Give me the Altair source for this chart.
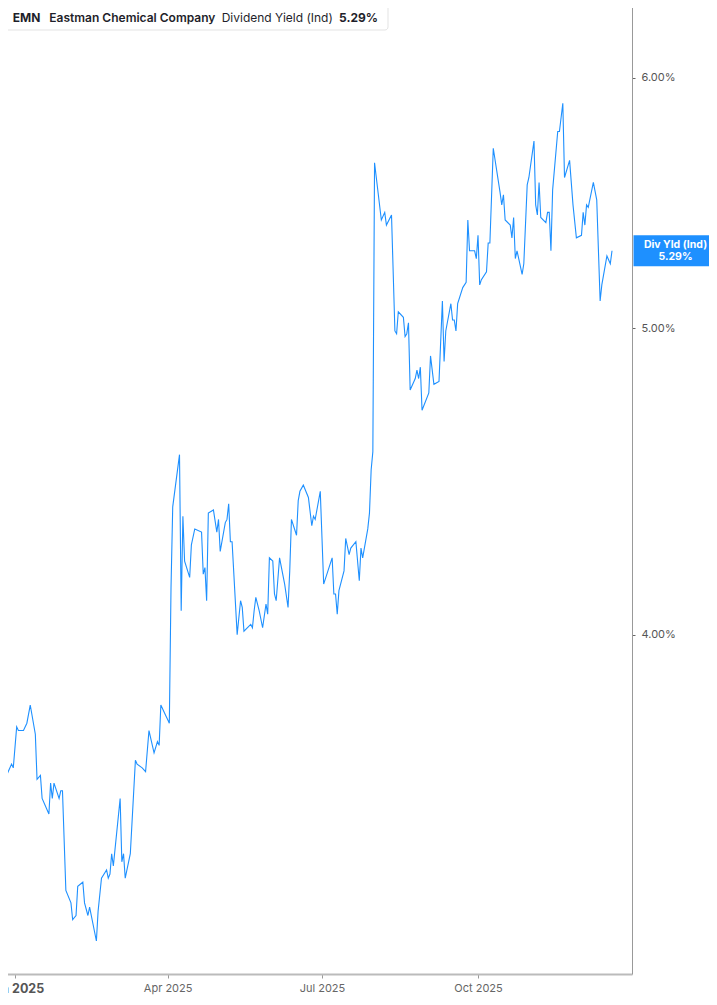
import altair as alt
import pandas as pd

# Header / badge texts
ticker = "EMN"
company = "Eastman Chemical Company"
metric = "Dividend Yield (Ind)"
badge_title = "Div Yld (Ind)"

# Daily dividend yield (%)
dates = [
    "2024-12-23", "2024-12-24", "2024-12-26", "2024-12-27", "2024-12-30", "2024-12-31",
    "2025-01-02", "2025-01-03", "2025-01-06", "2025-01-08", "2025-01-10", "2025-01-13",
    "2025-01-14", "2025-01-16", "2025-01-17", "2025-01-21", "2025-01-22", "2025-01-23",
    "2025-01-24", "2025-01-27", "2025-01-28", "2025-01-29", "2025-01-31", "2025-02-03",
    "2025-02-04", "2025-02-06", "2025-02-07", "2025-02-10", "2025-02-11", "2025-02-13",
    "2025-02-14", "2025-02-18", "2025-02-19", "2025-02-21", "2025-02-24", "2025-02-25",
    "2025-02-26", "2025-02-27", "2025-02-28", "2025-03-04", "2025-03-05", "2025-03-06",
    "2025-03-07", "2025-03-10", "2025-03-13", "2025-03-14", "2025-03-17", "2025-03-19",
    "2025-03-21", "2025-03-24", "2025-03-26", "2025-03-27", "2025-03-28", "2025-03-31",
    "2025-04-01", "2025-04-02", "2025-04-03", "2025-04-04", "2025-04-08", "2025-04-09",
    "2025-04-10", "2025-04-11", "2025-04-14", "2025-04-15", "2025-04-17", "2025-04-21",
    "2025-04-22", "2025-04-23", "2025-04-24", "2025-04-25", "2025-04-28", "2025-04-30",
    "2025-05-01", "2025-05-02", "2025-05-05", "2025-05-06", "2025-05-07", "2025-05-08",
    "2025-05-09", "2025-05-12", "2025-05-14", "2025-05-15", "2025-05-16", "2025-05-20",
    "2025-05-21", "2025-05-22", "2025-05-23", "2025-05-25", "2025-05-27", "2025-05-29",
    "2025-05-30", "2025-05-31", "2025-06-02", "2025-06-03", "2025-06-04", "2025-06-06",
    "2025-06-09", "2025-06-11", "2025-06-12", "2025-06-13", "2025-06-16", "2025-06-17",
    "2025-06-18", "2025-06-20", "2025-06-23", "2025-06-25", "2025-06-26", "2025-06-27",
    "2025-06-30", "2025-07-02", "2025-07-07", "2025-07-08", "2025-07-09", "2025-07-10",
    "2025-07-11", "2025-07-14", "2025-07-15", "2025-07-17", "2025-07-18", "2025-07-21",
    "2025-07-23", "2025-07-24", "2025-07-25", "2025-07-28", "2025-07-29", "2025-07-30",
    "2025-07-31", "2025-08-01", "2025-08-05", "2025-08-07", "2025-08-08", "2025-08-11",
    "2025-08-13", "2025-08-14", "2025-08-15", "2025-08-18", "2025-08-19", "2025-08-20",
    "2025-08-21", "2025-08-22", "2025-08-25", "2025-08-26", "2025-08-27", "2025-08-28",
    "2025-08-29", "2025-09-02", "2025-09-03", "2025-09-05", "2025-09-08", "2025-09-10",
    "2025-09-11", "2025-09-12", "2025-09-15", "2025-09-16", "2025-09-17", "2025-09-18",
    "2025-09-19", "2025-09-22", "2025-09-24", "2025-09-25", "2025-09-26", "2025-09-29",
    "2025-09-30", "2025-10-01", "2025-10-02", "2025-10-03", "2025-10-06", "2025-10-07",
    "2025-10-08", "2025-10-10", "2025-10-14", "2025-10-15", "2025-10-16", "2025-10-17",
    "2025-10-20", "2025-10-21", "2025-10-22", "2025-10-23", "2025-10-24", "2025-10-27",
    "2025-10-28", "2025-10-30", "2025-10-31", "2025-11-03", "2025-11-04", "2025-11-05",
    "2025-11-06", "2025-11-07", "2025-11-10", "2025-11-11", "2025-11-12", "2025-11-13",
    "2025-11-14", "2025-11-17", "2025-11-18", "2025-11-20", "2025-11-21", "2025-11-24",
    "2025-11-26", "2025-11-28", "2025-12-01", "2025-12-02", "2025-12-03", "2025-12-04",
    "2025-12-05", "2025-12-08", "2025-12-10", "2025-12-12", "2025-12-13", "2025-12-16",
    "2025-12-18", "2025-12-19",
]
yields = [
    3.63, 3.62, 3.61, 3.61, 3.64, 3.63,
    3.74, 3.73, 3.73, 3.75, 3.80, 3.72,
    3.60, 3.61, 3.55, 3.51, 3.59, 3.55,
    3.59, 3.55, 3.57, 3.57, 3.32, 3.29,
    3.25, 3.26, 3.33, 3.34, 3.29, 3.26,
    3.28, 3.20, 3.27, 3.35, 3.37, 3.35,
    3.36, 3.41, 3.38, 3.55, 3.39, 3.41,
    3.35, 3.41, 3.65, 3.64, 3.63, 3.62,
    3.73, 3.67, 3.70, 3.69, 3.80, 3.77,
    3.76, 3.75, 4.14, 4.39, 4.56, 4.07,
    4.36, 4.22, 4.17, 4.27, 4.32, 4.31,
    4.18, 4.20, 4.10, 4.37, 4.38, 4.31,
    4.35, 4.25, 4.34, 4.35, 4.40, 4.28,
    4.28, 4.00, 4.10, 4.08, 4.01, 4.03,
    4.02, 4.07, 4.11, 4.07, 4.02, 4.09,
    4.06, 4.23, 4.22, 4.12, 4.10, 4.23,
    4.15, 4.08, 4.19, 4.35, 4.30, 4.41,
    4.44, 4.46, 4.42, 4.33, 4.36, 4.35,
    4.44, 4.15, 4.23, 4.12, 4.12, 4.06,
    4.13, 4.19, 4.29, 4.24, 4.26, 4.28,
    4.16, 4.26, 4.23, 4.32, 4.37, 4.51,
    4.57, 5.64, 5.41, 5.44, 5.39, 5.43,
    4.99, 4.98, 5.06, 5.04, 4.97, 4.98,
    5.02, 4.78, 4.82, 4.85, 4.82, 4.86,
    4.71, 4.77, 4.90, 4.80, 4.81, 5.10,
    4.88, 4.99, 5.09, 5.03, 5.03, 4.99,
    5.09, 5.15, 5.17, 5.41, 5.29, 5.29,
    5.26, 5.35, 5.16, 5.18, 5.21, 5.32,
    5.32, 5.70, 5.52, 5.47, 5.51, 5.41,
    5.39, 5.34, 5.42, 5.26, 5.29, 5.20,
    5.24, 5.55, 5.58, 5.73, 5.47, 5.43,
    5.56, 5.42, 5.40, 5.44, 5.44, 5.29,
    5.53, 5.77, 5.77, 5.89, 5.58, 5.65,
    5.47, 5.34, 5.35, 5.44, 5.39, 5.47,
    5.46, 5.56, 5.49, 5.10, 5.16, 5.27,
    5.24, 5.29,
]
last_yield = yields[-1]

y_ticks = [4, 5, 6]
x_tick_months = [1, 4, 7, 10]

blue = "#1e90ff"
font = "Inter"

df = pd.DataFrame({"date": dates, "yield": yields})
badge_df = pd.DataFrame({"yield": [last_yield]})
one_row = pd.DataFrame({"k": [0]})

x_scale = alt.Scale(
    type="utc",
    domain=[
        alt.DateTime(year=2024, month=12, date=23, hours=4, utc=True),
        alt.DateTime(year=2025, month=12, date=30, hours=19, utc=True),
    ],
)
y_scale = alt.Scale(type="log", domain=[3.124, 6.35], nice=False)

is_jan = "utcmonth(datum.value) == 0"
x_axis = alt.Axis(
    title=None,
    values=[alt.DateTime(year=2025, month=m, date=1, utc=True) for m in x_tick_months],
    labelExpr="utcFormat(datum.value, '%b %Y')",
    labelFont=font,
    labelFontSize={"condition": {"test": is_jan, "value": 12.5}, "value": 11},
    labelFontWeight={"condition": {"test": is_jan, "value": "bold"}, "value": "normal"},
    labelColor={"condition": {"test": is_jan, "value": "#555555"}, "value": "#666666"},
    labelPadding=4,
    labelOverlap=False,
    labelFlush=False,
    domainColor="#bbbbbb",
    domainWidth=2,
    tickColor="#999999",
    tickSize=4,
    grid=False,
)
y_axis = alt.Axis(
    title=None,
    orient="right",
    values=y_ticks,
    labelExpr="format(datum.value, '.2f') + '%'",
    labelFont=font,
    labelFontSize=11,
    labelColor="#555555",
    labelPadding=6,
    domainColor="#999999",
    domainWidth=1,
    tickColor="#666666",
    tickSize=3,
    grid=False,
)

line = alt.Chart(df).mark_line(color=blue, strokeWidth=1.1, clip=True).encode(
    x=alt.X("date:T", scale=x_scale, axis=x_axis),
    y=alt.Y("yield:Q", scale=y_scale, axis=y_axis),
)

# Header box (legend-like label in the top-left corner)
header_box = alt.Chart(one_row).mark_rect(
    fill="white", stroke="#e3e3e3", strokeWidth=1, cornerRadius=3
).encode(x=alt.value(4.5), x2=alt.value(388), y=alt.value(4.5), y2=alt.value(30))
header_bar = alt.Chart(one_row).mark_rect(fill=blue, cornerRadius=1.5).encode(
    x=alt.value(4), x2=alt.value(6.5), y=alt.value(5), y2=alt.value(29.5)
)


def header_text(text, x, weight):
    return alt.Chart(one_row).mark_text(
        text=text, font=font, fontSize=12, fontWeight=weight, color="#1f1f2b",
        align="left", baseline="middle",
    ).encode(x=alt.value(x), y=alt.value(17.5))


header = (
    header_box
    + header_bar
    + header_text(ticker, 12.7, 700)
    + header_text(company, 49.3, 600)
    + header_text(metric, 221.7, 400)
    + header_text(f"{last_yield:.2f}%", 339, 700)
)

# Last-value badge on the right axis
badge_rect = alt.Chart(badge_df).mark_rect(color=blue, yOffset=-15.5, y2Offset=15.5).encode(
    x=alt.value(633.5), x2=alt.value(720),
    y=alt.Y("yield:Q", axis=y_axis), y2="yield:Q",
)


def badge_text(text, dy):
    return alt.Chart(badge_df).mark_text(
        text=text, font=font, fontSize=10.5, fontWeight="bold", color="white",
        align="center", baseline="middle", dy=dy,
    ).encode(x=alt.value(675.5), y=alt.Y("yield:Q", axis=y_axis))


chart = alt.layer(
    line, header, badge_rect,
    badge_text(badge_title, -5.5), badge_text(f"{last_yield:.2f}%", 6),
).properties(
    width=632,
    height=974,
    autosize=alt.AutoSizeParams(type="none"),
    padding={"left": -8, "top": -8, "right": 77, "bottom": 31},
    background="white",
).configure_view(stroke=None)

chart.save("out.html", embed_options={"renderer": "svg", "actions": False})
